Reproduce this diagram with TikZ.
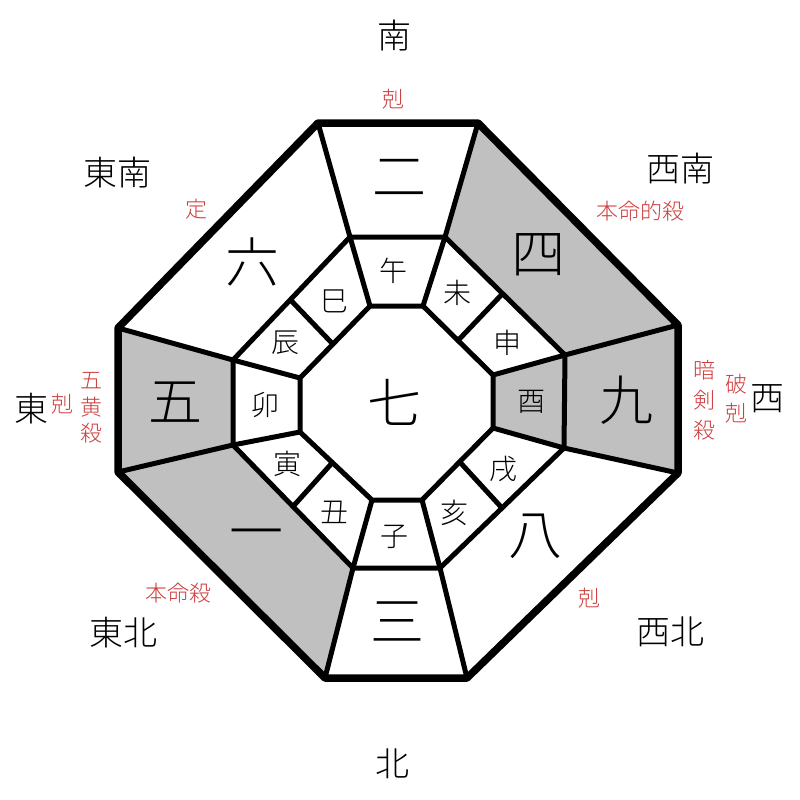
\documentclass[tikz,border=0pt]{standalone}
\usepackage{fontspec}
\newfontfamily\jp{Noto Sans CJK JP Light}
\usetikzlibrary{calc}
\definecolor{cellgray}{RGB}{192,192,192}
\definecolor{labred}{RGB}{205,60,60}
\begin{document}
\begin{tikzpicture}[x=1pt,y=-1pt,
 outerline/.style={line width=7.5pt,line join=round},
 innerline/.style={line width=5pt,line join=round},
 graycell/.style={fill=cellgray},
 dirlbl/.style={font=\jp\fontsize{34}{34}\selectfont,inner sep=0},
 biglbl/.style={font=\jp\fontsize{54}{54}\selectfont,inner sep=0},
 zodlbl/.style={font=\jp\fontsize{28}{28}\selectfont,inner sep=0},
 redlbl/.style={font=\jp\fontsize{22}{22}\selectfont,text=labred,inner sep=0,align=center}]
\useasboundingbox (0,0) rectangle (800,800);
% outer
\coordinate (O1) at (318,123);
\coordinate (O2) at (478,123);
\coordinate (O3) at (678,325);
\coordinate (O4) at (678,473);
\coordinate (O5) at (467,678);
\coordinate (O6) at (325,678);
\coordinate (O7) at (118,472);
\coordinate (O8) at (118,328);
% middle
\coordinate (M1) at (350,237);
\coordinate (M2) at (445,237);
\coordinate (M3) at (565,355);
\coordinate (M4) at (564,448);
\coordinate (M5) at (440,568);
\coordinate (M6) at (353,568);
\coordinate (M7) at (233,445);
\coordinate (M8) at (233,360);
% inner
\coordinate (I1) at (370,306);
\coordinate (I2) at (423,306);
\coordinate (I3) at (493,375);
\coordinate (I4) at (493,428);
\coordinate (I5) at (422,500);
\coordinate (I6) at (372,500);
\coordinate (I7) at (300,432);
\coordinate (I8) at (300,378);
% dividers in diagonal cells
\coordinate (Da) at ($(M2)!0.48!(M3)$);
\coordinate (Db) at ($(I2)!0.5!(I3)$);
\coordinate (Dc) at ($(M4)!0.50!(M5)$);
\coordinate (Dd) at ($(I4)!0.47!(I5)$);
\coordinate (De) at ($(M6)!0.50!(M7)$);
\coordinate (Df) at ($(I6)!0.55!(I7)$);
\coordinate (Dg) at ($(M8)!0.49!(M1)$);
\coordinate (Dh) at ($(I8)!0.47!(I1)$);
% gray cells
\fill[graycell] (O2) -- (O3) -- (M3) -- (M2) -- cycle;
\fill[graycell] (O3) -- (O4) -- (M4) -- (M3) -- cycle;
\fill[graycell] (M3) -- (M4) -- (I4) -- (I3) -- cycle;
\fill[graycell] (O8) -- (M8) -- (M7) -- (O7) -- cycle;
\fill[graycell] (O7) -- (M7) -- (M6) -- (O6) -- cycle;
% lines
\draw[innerline] (M1) -- (M2) -- (M3) -- (M4) -- (M5) -- (M6) -- (M7) -- (M8) -- cycle;
\draw[innerline] (I1) -- (I2) -- (I3) -- (I4) -- (I5) -- (I6) -- (I7) -- (I8) -- cycle;
\foreach \k in {1,...,8} {
  \draw[innerline] (O\k) -- (M\k);
  \draw[innerline] (M\k) -- (I\k);
}
\draw[innerline] (Da) -- (Db);
\draw[innerline] (Dc) -- (Dd);
\draw[innerline] (De) -- (Df);
\draw[innerline] (Dg) -- (Dh);
\draw[outerline] (O1) -- (O2) -- (O3) -- (O4) -- (O5) -- (O6) -- (O7) -- (O8) -- cycle;
% big numbers
\node[biglbl] (n2) at (399,178) {二};
\node[biglbl] (n4) at (538,255) {四};
\node[biglbl] (n9) at (626,400) {九};
\node[biglbl] (n8) at (535,536) {八};
\node[biglbl] (n3) at (397,622) {三};
\node[biglbl] (n1) at (256,540) {一};
\node[biglbl] (n5) at (175,402) {五};
\node[biglbl] (n6) at (252,262) {六};
\node[biglbl] (n7) at (394,402) {七};
% zodiac
\node[zodlbl] (z1) at (393,271) {午};
\node[zodlbl] (z2) at (457,293) {未};
\node[zodlbl] (z3) at (507,343) {申};
\node[zodlbl] (z4) at (531,402) {酉};
\node[zodlbl] (z5) at (503,469) {戌};
\node[zodlbl] (z6) at (454,513) {亥};
\node[zodlbl] (z7) at (394,537) {子};
\node[zodlbl] (z8) at (334,512) {丑};
\node[zodlbl] (z9) at (287,464) {寅};
\node[zodlbl] (z10) at (265,405) {卯};
\node[zodlbl] (z11) at (285,343) {辰};
\node[zodlbl] (z12) at (334,301) {巳};
% directions
\node[dirlbl] (dS) at (394,36) {南};
\node[dirlbl] (dN) at (392,764) {北};
\node[dirlbl] (dE) at (31,409) {東};
\node[dirlbl] (dW) at (767,399) {西};
\node[dirlbl] (dSE) at (117,173) {東南};
\node[dirlbl] (dSW) at (680,169) {西南};
\node[dirlbl] (dNE) at (123,633) {東北};
\node[dirlbl] (dNW) at (670,632) {西北};
% red labels
\node[redlbl] (rS) at (393,99) {剋};
\node[redlbl] (rSE) at (196,209) {定};
\node[redlbl] (rSW) at (640,211) {本命的殺};
\node[redlbl] (rE) at (62,404) {剋};
\node[redlbl,font=\jp\fontsize{22}{26.5}\selectfont] (rE2) at (91,408) {五\\黄\\殺};
\node[redlbl,font=\jp\fontsize{22}{30}\selectfont] (rW1) at (704,400) {暗\\剣\\殺};
\node[redlbl,font=\jp\fontsize{22}{29}\selectfont] (rW2) at (736,399) {破\\剋};
\node[redlbl] (rNE) at (178,593) {本命殺};
\node[redlbl] (rNW) at (589,598) {剋};
\end{tikzpicture}
\end{document}
